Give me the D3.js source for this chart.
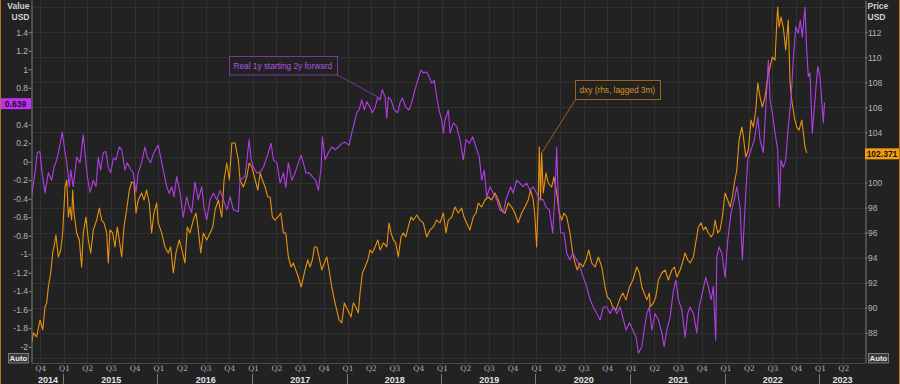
<!DOCTYPE html>
<html>
<head>
<meta charset="utf-8">
<script src="https://cdn.jsdelivr.net/npm/d3@7"></script>
<style>
  body { margin: 0; background: #222222; }
  svg { display: block; font-family: "Liberation Sans", Arial, sans-serif; }
</style>
</head>
<body>
<div id="chart"></div>
<script>
// series as [decimal year, value]
var realSeries = [[2014.658,-0.36],[2014.693,-0.12],[2014.717,0.10],[2014.746,0.11],[2014.764,-0.09],[2014.799,-0.34],[2014.834,-0.12],[2014.870,-0.20],[2014.894,-0.06],[2014.923,0.02],[2014.947,0.13],[2014.982,0.32],[2015.003,0.16],[2015.029,-0.01],[2015.056,-0.27],[2015.071,-0.09],[2015.098,-0.27],[2015.134,0.05],[2015.169,-0.01],[2015.204,0.29],[2015.222,0.10],[2015.247,-0.16],[2015.275,-0.33],[2015.310,-0.20],[2015.339,-0.27],[2015.363,0.05],[2015.388,-0.09],[2015.416,0.10],[2015.444,0.11],[2015.469,-0.06],[2015.494,-0.12],[2015.522,0.04],[2015.550,0.02],[2015.585,0.16],[2015.611,0.13],[2015.646,-0.09],[2015.670,-0.01],[2015.698,-0.07],[2015.733,-0.12],[2015.762,-0.33],[2015.786,-0.12],[2015.822,-0.01],[2015.857,0.16],[2015.881,0.05],[2015.917,-0.01],[2015.952,0.10],[2015.998,0.18],[2016.023,0.05],[2016.051,-0.09],[2016.087,-0.27],[2016.114,-0.34],[2016.140,-0.27],[2016.164,-0.38],[2016.193,-0.16],[2016.228,-0.34],[2016.262,-0.60],[2016.298,-0.38],[2016.326,-0.49],[2016.351,-0.55],[2016.386,-0.22],[2016.421,-0.41],[2016.457,-0.27],[2016.481,-0.49],[2016.510,-0.63],[2016.545,-0.41],[2016.580,-0.34],[2016.616,-0.41],[2016.651,-0.31],[2016.686,-0.41],[2016.722,-0.52],[2016.757,-0.38],[2016.792,-0.52],[2016.844,-0.54],[2016.862,-0.20],[2016.915,-0.16],[2016.958,0.24],[2016.979,0.02],[2017.003,-0.06],[2017.039,-0.12],[2017.074,-0.11],[2017.109,-0.06],[2017.145,0.05],[2017.190,0.20],[2017.215,0.02],[2017.251,-0.01],[2017.286,-0.23],[2017.321,-0.12],[2017.346,-0.28],[2017.373,-0.01],[2017.410,-0.20],[2017.444,-0.12],[2017.479,-0.01],[2017.508,0.07],[2017.532,-0.01],[2017.558,-0.12],[2017.593,-0.12],[2017.627,-0.16],[2017.663,-0.20],[2017.691,-0.31],[2017.720,-0.06],[2017.733,0.27],[2017.762,0.02],[2017.797,0.10],[2017.833,0.16],[2017.868,0.13],[2017.903,0.16],[2017.939,0.20],[2017.974,0.21],[2018.016,0.18],[2018.044,0.31],[2018.072,0.42],[2018.097,0.53],[2018.122,0.56],[2018.150,0.67],[2018.178,0.56],[2018.203,0.65],[2018.238,0.59],[2018.262,0.53],[2018.291,0.59],[2018.320,0.70],[2018.344,0.67],[2018.368,0.78],[2018.397,0.70],[2018.415,0.47],[2018.432,0.70],[2018.460,0.67],[2018.495,0.56],[2018.531,0.53],[2018.556,0.64],[2018.580,0.69],[2018.616,0.59],[2018.651,0.56],[2018.679,0.64],[2018.714,0.78],[2018.743,0.88],[2018.778,0.99],[2018.802,0.96],[2018.838,0.97],[2018.862,0.92],[2018.891,0.85],[2018.918,0.88],[2018.944,0.70],[2018.968,0.56],[2018.997,0.45],[2019.014,0.31],[2019.032,0.45],[2019.067,0.56],[2019.085,0.31],[2019.120,0.42],[2019.156,0.38],[2019.190,0.24],[2019.226,0.02],[2019.254,0.24],[2019.289,0.20],[2019.325,0.27],[2019.360,0.16],[2019.395,0.05],[2019.420,-0.20],[2019.448,-0.09],[2019.473,-0.38],[2019.508,-0.27],[2019.543,-0.34],[2019.579,-0.41],[2019.614,-0.52],[2019.649,-0.55],[2019.677,-0.41],[2019.702,-0.34],[2019.727,-0.27],[2019.754,-0.34],[2019.790,-0.20],[2019.825,-0.23],[2019.860,-0.27],[2019.896,-0.23],[2019.931,-0.31],[2019.966,-0.27],[2020.002,-0.34],[2020.037,-0.41],[2020.072,-0.41],[2020.101,-0.49],[2020.136,-0.52],[2020.172,-0.77],[2020.196,-0.34],[2020.214,0.16],[2020.231,-0.41],[2020.256,-0.77],[2020.291,-0.77],[2020.320,-0.99],[2020.354,-1.06],[2020.383,-0.99],[2020.425,-1.06],[2020.460,-1.14],[2020.495,-1.25],[2020.531,-1.35],[2020.566,-1.49],[2020.601,-1.57],[2020.637,-1.64],[2020.672,-1.71],[2020.707,-1.57],[2020.743,-1.57],[2020.778,-1.64],[2020.813,-1.57],[2020.849,-1.64],[2020.884,-1.57],[2020.919,-1.71],[2020.947,-1.82],[2020.982,-1.74],[2021.018,-1.82],[2021.053,-1.90],[2021.077,-2.07],[2021.113,-2.00],[2021.138,-1.82],[2021.166,-1.64],[2021.193,-1.57],[2021.219,-1.82],[2021.254,-1.64],[2021.289,-1.71],[2021.325,-1.85],[2021.349,-2.00],[2021.378,-1.82],[2021.413,-1.68],[2021.448,-1.39],[2021.473,-1.28],[2021.501,-1.49],[2021.537,-1.60],[2021.571,-1.90],[2021.600,-1.64],[2021.624,-1.57],[2021.659,-1.64],[2021.695,-1.85],[2021.720,-1.57],[2021.754,-1.42],[2021.790,-1.25],[2021.818,-1.35],[2021.847,-1.49],[2021.871,-1.35],[2021.896,-1.93],[2021.907,-1.03],[2021.931,-0.92],[2021.960,-0.99],[2021.995,-1.25],[2022.023,-0.85],[2022.058,-0.55],[2022.093,-0.41],[2022.119,-0.27],[2022.153,-0.49],[2022.178,-1.06],[2022.206,-0.49],[2022.235,0.02],[2022.270,0.13],[2022.305,0.24],[2022.341,0.48],[2022.365,0.24],[2022.400,0.10],[2022.426,0.59],[2022.453,1.10],[2022.471,0.67],[2022.495,0.53],[2022.524,0.31],[2022.552,0.13],[2022.569,-0.49],[2022.587,0.02],[2022.611,-0.06],[2022.637,0.02],[2022.664,0.38],[2022.693,0.67],[2022.717,1.10],[2022.743,1.46],[2022.770,1.39],[2022.791,1.53],[2022.813,1.35],[2022.841,1.67],[2022.859,1.21],[2022.876,0.92],[2022.894,0.96],[2022.918,0.31],[2022.947,0.67],[2022.976,1.03],[2023.000,0.92],[2023.018,0.67],[2023.035,0.42],[2023.048,0.639]];

var dxySeries = [[2014.658,87.18],[2014.675,87.98],[2014.711,87.66],[2014.746,89.02],[2014.775,88.22],[2014.799,90.06],[2014.817,90.38],[2014.834,91.65],[2014.859,92.77],[2014.880,94.37],[2014.894,94.85],[2014.915,95.81],[2014.940,94.05],[2014.965,94.61],[2014.986,95.97],[2015.011,99.64],[2015.029,100.20],[2015.046,97.24],[2015.063,98.04],[2015.081,97.00],[2015.092,99.40],[2015.106,97.56],[2015.134,95.97],[2015.162,95.41],[2015.187,93.25],[2015.204,95.97],[2015.233,97.24],[2015.257,95.41],[2015.283,94.37],[2015.310,96.21],[2015.346,97.00],[2015.374,97.96],[2015.399,97.00],[2015.423,96.77],[2015.452,95.97],[2015.469,93.57],[2015.487,96.21],[2015.515,95.97],[2015.540,94.85],[2015.564,96.45],[2015.585,95.41],[2015.611,94.05],[2015.635,96.45],[2015.663,97.80],[2015.691,99.40],[2015.716,100.04],[2015.741,99.96],[2015.762,97.56],[2015.786,98.60],[2015.822,99.16],[2015.847,98.60],[2015.875,99.40],[2015.903,98.36],[2015.928,95.97],[2015.952,97.56],[2015.981,98.36],[2015.998,96.77],[2016.034,95.97],[2016.069,94.85],[2016.104,94.37],[2016.129,94.85],[2016.157,92.77],[2016.185,94.37],[2016.220,95.41],[2016.256,94.37],[2016.280,93.57],[2016.305,96.45],[2016.333,95.97],[2016.368,97.00],[2016.397,97.56],[2016.421,96.21],[2016.447,94.37],[2016.474,95.97],[2016.510,95.41],[2016.545,95.97],[2016.574,96.45],[2016.598,97.80],[2016.633,98.60],[2016.669,97.24],[2016.693,100.20],[2016.722,101.56],[2016.749,100.20],[2016.775,103.15],[2016.810,103.15],[2016.844,101.80],[2016.862,100.20],[2016.897,99.64],[2016.933,100.44],[2016.958,101.56],[2016.986,101.24],[2017.014,100.44],[2017.050,99.40],[2017.074,100.76],[2017.098,100.20],[2017.127,99.64],[2017.155,98.84],[2017.180,98.84],[2017.204,97.24],[2017.233,97.00],[2017.261,97.24],[2017.293,97.56],[2017.321,95.97],[2017.346,95.97],[2017.373,94.05],[2017.402,93.25],[2017.426,93.57],[2017.452,93.01],[2017.479,92.45],[2017.508,91.65],[2017.532,92.45],[2017.558,93.25],[2017.579,93.81],[2017.603,93.25],[2017.627,93.81],[2017.649,94.85],[2017.674,94.85],[2017.698,94.05],[2017.727,93.01],[2017.754,93.57],[2017.780,94.05],[2017.804,93.01],[2017.833,91.65],[2017.860,90.62],[2017.885,89.82],[2017.910,89.02],[2017.939,88.78],[2017.966,90.38],[2018.002,89.82],[2018.037,89.26],[2018.061,90.38],[2018.087,90.06],[2018.114,89.58],[2018.132,91.17],[2018.157,92.77],[2018.185,93.25],[2018.214,93.81],[2018.238,94.61],[2018.262,94.37],[2018.291,94.85],[2018.320,95.41],[2018.344,94.61],[2018.379,95.17],[2018.415,94.85],[2018.439,96.77],[2018.460,95.97],[2018.485,95.41],[2018.510,95.17],[2018.537,94.05],[2018.566,95.65],[2018.590,95.97],[2018.616,95.65],[2018.643,96.45],[2018.672,97.24],[2018.696,97.00],[2018.732,97.40],[2018.767,97.00],[2018.802,96.77],[2018.838,95.65],[2018.873,96.21],[2018.908,96.45],[2018.944,97.00],[2018.979,96.77],[2019.014,97.56],[2019.042,95.97],[2019.067,97.00],[2019.103,97.24],[2019.138,98.04],[2019.172,97.56],[2019.208,97.96],[2019.233,97.24],[2019.261,96.77],[2019.296,96.21],[2019.331,97.24],[2019.360,97.56],[2019.384,98.36],[2019.420,98.04],[2019.455,98.60],[2019.490,98.84],[2019.526,98.60],[2019.561,99.16],[2019.596,98.60],[2019.632,97.80],[2019.667,97.56],[2019.702,98.36],[2019.738,98.04],[2019.772,97.56],[2019.807,96.77],[2019.843,97.56],[2019.878,98.04],[2019.913,98.60],[2019.938,99.40],[2019.966,98.60],[2019.984,97.24],[2020.002,94.85],[2020.019,98.60],[2020.030,102.84],[2020.044,98.60],[2020.055,102.36],[2020.072,99.16],[2020.101,100.76],[2020.125,99.96],[2020.161,99.64],[2020.185,100.44],[2020.214,99.16],[2020.241,97.56],[2020.267,97.00],[2020.291,97.56],[2020.320,97.24],[2020.354,95.97],[2020.383,94.37],[2020.407,93.57],[2020.432,93.01],[2020.460,93.57],[2020.489,93.25],[2020.524,93.81],[2020.552,94.61],[2020.584,93.57],[2020.619,93.25],[2020.654,94.05],[2020.690,93.25],[2020.725,91.65],[2020.749,90.85],[2020.778,90.62],[2020.806,90.06],[2020.841,89.82],[2020.876,90.62],[2020.912,91.17],[2020.947,90.62],[2020.982,91.65],[2021.018,92.21],[2021.060,93.25],[2021.088,92.77],[2021.113,91.65],[2021.138,91.17],[2021.166,90.62],[2021.193,91.17],[2021.201,90.06],[2021.236,90.38],[2021.261,90.85],[2021.289,92.21],[2021.325,92.77],[2021.360,93.01],[2021.395,92.21],[2021.431,93.01],[2021.458,93.25],[2021.484,92.45],[2021.519,93.01],[2021.543,93.57],[2021.571,94.37],[2021.600,93.81],[2021.624,93.57],[2021.659,94.05],[2021.684,95.17],[2021.712,96.45],[2021.741,96.77],[2021.765,96.21],[2021.790,96.45],[2021.818,95.97],[2021.847,95.65],[2021.871,95.97],[2021.889,97.00],[2021.917,95.97],[2021.942,96.21],[2021.966,97.24],[2021.995,99.16],[2022.023,98.60],[2022.048,98.04],[2022.072,98.84],[2022.093,99.96],[2022.119,101.00],[2022.143,103.39],[2022.172,104.43],[2022.189,103.63],[2022.214,102.04],[2022.241,102.60],[2022.270,104.99],[2022.294,104.43],[2022.320,105.79],[2022.341,107.95],[2022.365,106.83],[2022.389,106.03],[2022.418,106.83],[2022.447,108.43],[2022.471,109.23],[2022.495,110.02],[2022.524,109.78],[2022.542,112.74],[2022.552,114.02],[2022.566,112.42],[2022.587,113.22],[2022.611,112.42],[2022.637,110.58],[2022.664,112.98],[2022.683,107.95],[2022.701,106.59],[2022.728,105.23],[2022.754,104.43],[2022.778,104.19],[2022.807,104.99],[2022.824,103.95],[2022.841,102.84],[2022.859,102.371]];

var leftTicks = [-2, -1.8, -1.6, -1.4, -1.2, -1, -0.8, -0.6, -0.4, -0.2, 0, 0.2, 0.4, 0.6, 0.8, 1, 1.2, 1.4];
var rightTicks = [88, 90, 92, 94, 96, 98, 100, 102, 104, 106, 108, 110, 112];
var gridTicks = [86, 88, 90, 92, 94, 96, 98, 100, 102, 104, 106, 108, 110, 112, 114];
var yearLabels = [2014, 2015, 2016, 2017, 2018, 2019, 2020, 2021, 2022, 2023];
var lastReal = 0.639, lastDxy = 102.371;
var realName = "Real 1y starting 2y forward";
var dxyName = "dxy (rhs, lagged 3m)";

var W = 900, H = 384;
var plot = {left: 32, right: 865, top: 0, bottom: 363};
var purple = "#b23ee6", orange = "#e8920f";

function toDate(t) {
  var y = Math.floor(t), s = new Date(y, 0, 1), e = new Date(y + 1, 0, 1);
  return new Date(+s + (t - y) * (e - s));
}

var svg = d3.select("#chart").append("svg")
    .attr("width", W).attr("height", H);

svg.append("rect").attr("width", W).attr("height", H).attr("fill", "#222222");

// scales
var x = d3.scaleTime()
    .domain([new Date(2015, 0, 1), new Date(2023, 0, 1)])
    .range([64, 820]);
var yL = d3.scaleLinear().domain([-2.176, 1.749]).range([plot.bottom, plot.top]);
var yR = d3.scaleLinear().domain([85.58, 114.58]).range([plot.bottom, plot.top]);

var quarters = d3.timeMonth.every(3).range(new Date(2014, 9, 1), new Date(2023, 4, 1));

// grid
var grid = svg.append("g").attr("stroke", "#303030").attr("stroke-width", 1);
grid.selectAll("line.h").data(gridTicks).enter().append("line")
    .attr("x1", plot.left).attr("x2", plot.right)
    .attr("y1", function(d) { return Math.round(yR(d)) + 0.5; })
    .attr("y2", function(d) { return Math.round(yR(d)) + 0.5; });
grid.selectAll("line.v").data(quarters).enter().append("line")
    .attr("x1", function(d) { return Math.round(x(d)) + 0.5; })
    .attr("x2", function(d) { return Math.round(x(d)) + 0.5; })
    .attr("y1", plot.top).attr("y2", plot.bottom);

// lines
svg.append("clipPath").attr("id", "clip").append("rect")
    .attr("x", plot.left).attr("y", plot.top)
    .attr("width", plot.right - plot.left).attr("height", plot.bottom - plot.top);

var lineR = d3.line().x(function(d) { return x(toDate(d[0])); }).y(function(d) { return yR(d[1]); });
var lineL = d3.line().x(function(d) { return x(toDate(d[0])); }).y(function(d) { return yL(d[1]); });

var lines = svg.append("g").attr("clip-path", "url(#clip)");
lines.append("path").datum(dxySeries).attr("d", lineR)
    .attr("fill", "none").attr("stroke", orange).attr("stroke-width", 1.1).attr("stroke-linejoin", "round");
lines.append("path").datum(realSeries).attr("d", lineL)
    .attr("fill", "none").attr("stroke", purple).attr("stroke-width", 1.1).attr("stroke-linejoin", "round");

// left axis (label hidden behind the last-value tag is dropped)
var axL = svg.append("g").attr("transform", "translate(" + (plot.left - 0.5) + ",0)")
    .call(d3.axisLeft(yL).tickValues(leftTicks).tickSize(3).tickSizeOuter(0)
      .tickFormat(function(d) { return Math.abs(yL(d) - yL(lastReal)) < 9 ? "" : String(+d.toFixed(1)); }));
axL.select(".domain").attr("stroke", "#7a7a7a");
axL.selectAll(".tick line").attr("stroke", "#8a8a8a");
axL.selectAll(".tick text").attr("fill", "#b4b4b4").attr("font-size", 8.5)
    .attr("font-family", "Liberation Sans, Arial, sans-serif").attr("x", -3.5);

// right axis
var axR = svg.append("g").attr("transform", "translate(" + (plot.right + 0.5) + ",0)")
    .call(d3.axisRight(yR).tickValues(rightTicks).tickSize(2).tickSizeOuter(0)
      .tickFormat(function(d) { return Math.abs(yR(d) - yR(lastDxy)) < 9 ? "" : String(d); }));
axR.select(".domain").attr("stroke", "#7a7a7a");
axR.selectAll(".tick line").attr("stroke", "#8a8a8a");
axR.selectAll(".tick text").attr("fill", "#b4b4b4").attr("font-size", 8.5)
    .attr("font-family", "Liberation Sans, Arial, sans-serif").attr("x", 2.5);

// bottom axis
svg.append("line").attr("x1", plot.left).attr("x2", plot.right)
    .attr("y1", plot.bottom + 0.5).attr("y2", plot.bottom + 0.5).attr("stroke", "#4a4a4a");

var axB = svg.append("g").attr("transform", "translate(0," + plot.bottom + ")")
    .call(d3.axisBottom(x).tickValues(quarters).tickSize(0)
      .tickFormat(function(d) { return "Q" + (Math.floor(d.getMonth() / 3) + 1); }));
axB.select(".domain").remove();
axB.selectAll(".tick text").attr("fill", "#a9b2c4").attr("font-size", 7.5)
    .attr("font-family", "DejaVu Serif, serif").attr("y", 3);

var yearG = svg.append("g");
yearLabels.forEach(function(yr) {
  var s = new Date(yr, 0, 1), e = new Date(yr + 1, 0, 1);
  var a = Math.max(x(s), plot.left), b = Math.min(x(e), plot.right);
  yearG.append("text").attr("x", (a + b) / 2).attr("y", 383)
      .attr("text-anchor", "middle").attr("font-size", 9).attr("font-weight", "bold")
      .attr("fill", "#e2e2e2").text(yr);
  if (x(s) > plot.left) {
    yearG.append("line").attr("x1", Math.round(x(s)) - 0.5).attr("x2", Math.round(x(s)) - 0.5)
        .attr("y1", 374).attr("y2", 384).attr("stroke", "#7a7a7a");
  }
});

// axis titles
function title(txt, xx, yy, anchor) {
  svg.append("text").attr("x", xx).attr("y", yy).attr("text-anchor", anchor)
      .attr("font-size", 8.5).attr("font-weight", "bold").attr("fill", "#cfcfcf").text(txt);
}
title("Value", 29.5, 8.5, "end");
title("USD", 29.5, 19.5, "end");
title("Price", 867.5, 8.5, "start");
title("USD", 867.5, 19.5, "start");

// annotations: box plus a leader from one bottom corner to a data point
function note(txt, bx, by, bw, bh, col, border, fromRight, px, py) {
  var sx = fromRight ? bx + bw : bx;
  svg.append("line").attr("x1", sx).attr("y1", by + bh).attr("x2", px).attr("y2", py)
      .attr("stroke", border).attr("stroke-width", 1);
  svg.append("rect").attr("x", bx).attr("y", by).attr("width", bw).attr("height", bh)
      .attr("fill", "#222222").attr("stroke", border).attr("stroke-width", 1);
  svg.append("text").attr("x", bx + 4).attr("y", by + bh / 2 + 3).attr("font-size", 8.3)
      .attr("fill", col).text(txt);
}
var realPt = realSeries.find(function(d) { return d[0] === 2018.320; });
var dxyPt = dxySeries.find(function(d) { return d[0] === 2020.055; });
note(realName, 229.5, 56.5, 108, 18.5, "#b150e2", "#7a3a9c", true, x(toDate(realPt[0])), yL(realPt[1]));
note(dxyName, 575.5, 80.5, 85, 19, "#d8921c", "#96661a", false, x(toDate(dxyPt[0])), yR(dxyPt[1]));

// last value tags
function tag(txt, bx, cy, bw, fill) {
  svg.append("rect").attr("x", bx).attr("y", cy - 5).attr("width", bw).attr("height", 11).attr("fill", fill);
  svg.append("text").attr("x", bx + bw / 2).attr("y", cy + 3.5).attr("text-anchor", "middle")
      .attr("font-size", 8.5).attr("font-weight", "bold").attr("fill", "#141414").text(txt);
}
tag(String(lastReal), 0, yL(lastReal) + 0.5, 31, "#c22ff2");
tag(String(lastDxy), 865, yR(lastDxy) + 0.5, 34, "#f09e0b");

// auto buttons
function autoBtn(bx) {
  svg.append("rect").attr("x", bx).attr("y", 353.5).attr("width", 20).attr("height", 9.5)
      .attr("fill", "#3b3b3b").attr("stroke", "#8a8a8a").attr("stroke-width", 0.8);
  svg.append("text").attr("x", bx + 10).attr("y", 361).attr("text-anchor", "middle")
      .attr("font-size", 7.8).attr("font-weight", "bold").attr("fill", "#e6e6e6").text("Auto");
}
autoBtn(8.5);
autoBtn(868.5);

// frame edges
svg.append("line").attr("x1", 0.5).attr("x2", 0.5).attr("y1", 0).attr("y2", H).attr("stroke", "#b8741a");
svg.append("line").attr("x1", 899.5).attr("x2", 899.5).attr("y1", 0).attr("y2", H).attr("stroke", "#b8741a");
</script>
</body>
</html>
